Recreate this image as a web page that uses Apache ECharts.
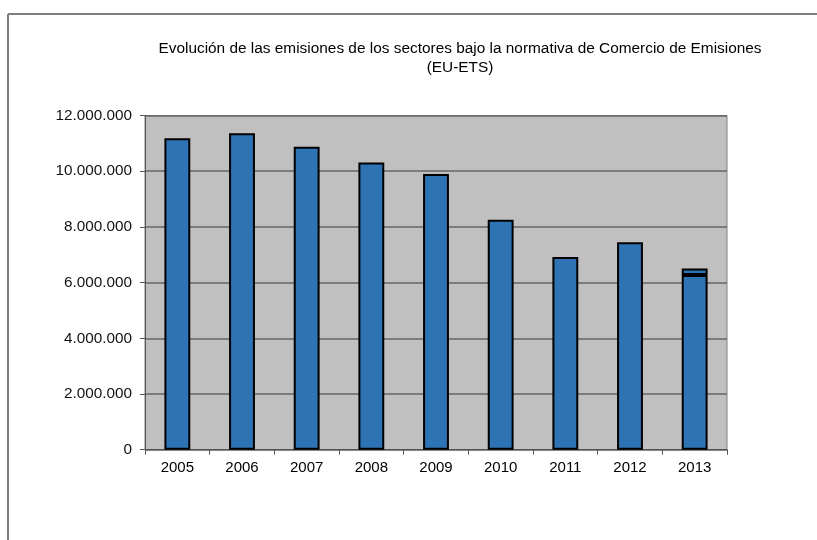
<!DOCTYPE html>
<html>
<head>
<meta charset="utf-8">
<script src="https://cdn.jsdelivr.net/npm/echarts@6/dist/echarts.min.js"></script>
<style>html,body{margin:0;padding:0;background:#fff;}#c{width:817px;height:540px;}</style>
</head>
<body>
<div id="c"></div>
<script>
var categories = ['2005','2006','2007','2008','2009','2010','2011','2012','2013'];
var emisiones = [11180000, 11360000, 10880000, 10310000, 9900000, 8260000, 6920000, 7450000, 6270000];
var emisionesExtra = [null, null, null, null, null, null, null, null, 240000];
var titleText = 'Evolución de las emisiones de los sectores bajo la normativa de Comercio de Emisiones\n(EU-ETS)';

function fmt(v){ return String(v).replace(/\B(?=(\d{3})+(?!\d))/g, '.'); }

var chart = echarts.init(document.getElementById('c'), null, {renderer:'canvas'});
var font = 'Liberation Sans, Arial, sans-serif';
chart.setOption({
  animation: false,
  backgroundColor: '#ffffff',
  title: {
    text: titleText,
    left: 455, top: 34, textAlign: 'center',
    textStyle: {fontFamily: font, fontSize: 15.4, fontWeight: 'normal', color: '#000', lineHeight: 19}
  },
  graphic: [
    {type:'line', shape:{x1:8, y1:14, x2:817, y2:14}, style:{stroke:'#7f7f7f', lineWidth:2}},
    {type:'line', shape:{x1:8, y1:14, x2:8, y2:540}, style:{stroke:'#7f7f7f', lineWidth:2}}
  ],
  grid: {left:145, right:90, top:115.5, bottom:90.3, show:true, backgroundColor:'#c0c0c0', borderColor:'#808080', borderWidth:1},
  xAxis: {
    type:'category', data: categories,
    axisLine:{show:true, lineStyle:{color:'#555', width:1}},
    axisTick:{show:true, alignWithLabel:false, length:5, lineStyle:{color:'#555'}},
    axisLabel:{fontFamily:font, fontSize:15, color:'#000', margin:11}
  },
  yAxis: {
    type:'value', min:0, max:12000000, interval:2000000,
    axisLine:{show:true, lineStyle:{color:'#555', width:1}},
    axisTick:{show:true, length:5, lineStyle:{color:'#555'}},
    splitLine:{show:true, lineStyle:{color:'#666', width:1.5}},
    axisLabel:{fontFamily:font, fontSize:15.3, color:'#111', margin:13, formatter: fmt}
  },
  series: [
    {type:'bar', stack:'s', data: emisiones, barWidth:'40%',
     itemStyle:{color:'#2e74b5', borderColor:'#000', borderWidth:2}},
    {type:'bar', stack:'s', data: emisionesExtra, barWidth:'40%',
     itemStyle:{color:'#2e74b5', borderColor:'#000', borderWidth:2}}
  ]
});
</script>
</body>
</html>
